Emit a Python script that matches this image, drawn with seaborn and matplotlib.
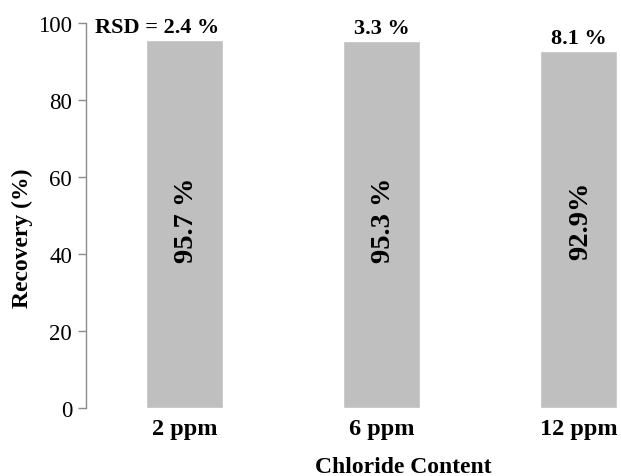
import matplotlib
matplotlib.use("Agg")
import matplotlib.pyplot as plt
import seaborn as sns
import pandas as pd

categories = ["2 ppm", "6 ppm", "12 ppm"]
recovery = [95.7, 95.3, 92.9]
inside_labels = ["95.7 %", "95.3 %", "92.9%"]
rsd_labels = ["RSD = 2.4 %", "3.3 %", "8.1 %"]
yticks = [0, 20, 40, 60, 80, 100]

sns.set_theme(style="white")
plt.rcParams["font.family"] = ["Liberation Serif", "DejaVu Serif"]
plt.rcParams["text.color"] = "black"
plt.rcParams["axes.labelcolor"] = "black"
plt.rcParams["xtick.color"] = "black"
plt.rcParams["ytick.color"] = "black"

df = pd.DataFrame({"cat": categories, "rec": recovery})

fig = plt.figure(figsize=(6.21, 4.77), dpi=100)
ax = fig.add_axes([86/621, 1-409/477, 591/621, 384.7/477])
sns.barplot(data=df, x="cat", y="rec", color="#BFBFBF", width=0.39, saturation=1, ax=ax)
ax.set_xlim(-0.5, 2.5)
ax.set_ylim(0, 100)
ax.set_yticks(yticks)
ax.set_yticklabels([str(t) for t in yticks], fontsize=16.5)

for s in ["top", "right", "bottom"]:
    ax.spines[s].set_visible(False)
ax.spines["left"].set_color("#8C8C8C")
ax.spines["left"].set_linewidth(1.0)
ax.tick_params(axis="y", left=True, length=6, width=1.0, color="#8C8C8C",
               labelcolor="black", pad=4)
ax.tick_params(axis="x", bottom=False, pad=1, labelcolor="black")
for lbl in ax.get_xticklabels():
    lbl.set_fontweight("bold")
    lbl.set_fontsize(17.5)

ax.set_xlabel("")
ax.set_ylabel("")
fig.text(22/621, 1-238/477, "Recovery (%)", rotation=90, ha="center", va="center",
         fontsize=17, fontweight="bold")
fig.text(403/621, 1-468/477, "Chloride Content", ha="center", va="center",
         fontsize=17, fontweight="bold")

for i, (v, t) in enumerate(zip(recovery, inside_labels)):
    ax.text(i + 0.01, 49, t, rotation=90, ha="center", va="center",
            fontsize=20.5, fontweight="bold")

offsets = [-0.14, 0, 0]
for i, (v, t) in enumerate(zip(recovery, rsd_labels)):
    ax.text(i + offsets[i], v + 0.8, t, ha="center", va="bottom",
            fontsize=16, fontweight="bold")

fig.savefig("out.png", dpi=100)
